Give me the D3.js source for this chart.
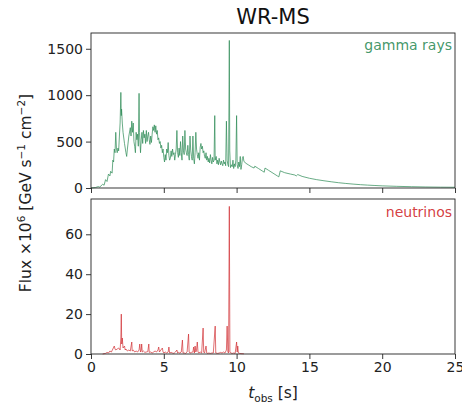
<!DOCTYPE html>
<html>
<head>
<meta charset="utf-8">
<script src="https://cdn.jsdelivr.net/npm/d3@7"></script>
<style>
  body { margin: 0; background: #fff; }
  svg { display: block; font-family: "DejaVu Sans", sans-serif; }
</style>
</head>
<body>
<svg id="chart" width="462" height="412"></svg>
<script>
const title = "WR-MS";
const xTicks = [0, 5, 10, 15, 20, 25];
const gammaTicks = [0, 500, 1000, 1500];
const nuTicks = [0, 20, 40, 60];
const gammaLabel = "gamma rays";
const nuLabel = "neutrinos";

// [t_obs (s), flux x1e6]
const gammaData = [
[0,0],[0.3,5],[0.5,15],[0.6,10],[0.8,40],[0.9,30],[1.0,90],[1.1,70],[1.2,150],[1.3,130],[1.35,180],[1.45,160],
[1.5,300],[1.55,280],[1.6,420],[1.65,380],[1.7,600],[1.75,420],[1.8,380],[1.85,430],[1.9,400],[1.95,560],[2.0,700],
[2.05,1030],[2.08,780],[2.1,850],[2.15,700],[2.2,600],[2.3,480],[2.4,380],[2.45,340],[2.5,420],[2.6,560],[2.7,650],
[2.75,560],[2.8,720],[2.85,600],[2.9,700],[2.95,500],[3.0,450],[3.05,380],[3.1,600],[3.15,520],[3.2,580],[3.25,450],
[3.3,1020],[3.33,600],[3.4,380],[3.45,520],[3.5,600],[3.55,480],[3.6,620],[3.65,540],[3.7,580],[3.75,480],[3.8,620],
[3.85,500],[3.9,560],[3.95,600],[4.0,520],[4.05,470],[4.1,560],[4.15,490],[4.2,580],[4.25,660],[4.3,620],[4.35,680],
[4.4,600],[4.45,670],[4.5,580],[4.55,620],[4.6,520],[4.65,540],[4.7,480],[4.75,500],[4.8,430],[4.85,460],[4.9,380],
[4.95,420],[5.0,330],[5.05,280],[5.1,360],[5.15,300],[5.2,420],[5.25,380],[5.3,490],[5.35,350],[5.4,300],[5.45,320],
[5.5,400],[5.55,340],[5.6,420],[5.65,360],[5.7,380],[5.75,300],[5.8,360],[5.85,420],[5.9,620],[5.95,380],[6.0,330],
[6.05,430],[6.1,350],[6.15,500],[6.2,380],[6.25,300],[6.3,560],[6.35,400],[6.4,360],[6.45,620],[6.5,420],[6.55,380],
[6.6,350],[6.65,460],[6.7,360],[6.75,300],[6.8,560],[6.85,400],[6.9,340],[6.95,300],[7.0,560],[7.05,320],[7.1,260],
[7.15,380],[7.2,600],[7.25,420],[7.3,360],[7.35,320],[7.4,380],[7.45,300],[7.5,440],[7.55,480],[7.6,420],[7.65,450],
[7.7,380],[7.75,400],[7.8,340],[7.85,320],[7.9,380],[7.95,300],[8.0,340],[8.05,280],[8.1,320],[8.15,270],[8.2,360],
[8.25,300],[8.3,260],[8.35,330],[8.4,280],[8.45,300],[8.5,780],[8.53,300],[8.6,340],[8.65,260],[8.7,300],[8.75,250],
[8.8,320],[8.85,280],[8.9,250],[8.95,290],[9.0,260],[9.05,240],[9.1,300],[9.15,260],[9.2,280],[9.25,240],[9.3,720],
[9.35,300],[9.4,250],[9.45,230],[9.5,1590],[9.53,400],[9.58,220],[9.65,250],[9.7,230],[9.75,300],[9.8,210],[9.85,260],
[9.9,230],[9.95,300],[10.0,780],[10.04,250],[10.1,210],[10.15,280],[10.2,230],[10.25,340],[10.3,200],[10.35,250],
[10.4,320],[10.45,340],[10.5,290],[10.6,270],[10.8,250],[11.0,230],[11.2,215],[11.25,235],[11.5,210],[11.8,180],
[11.9,170],[11.95,215],[12.2,190],[12.5,160],[12.8,130],[12.9,120],[13.0,185],[13.3,165],[13.7,150],[14.0,140],
[14.1,130],[14.2,145],[14.5,125],[15,105],[15.5,90],[16,78],[16.5,67],[17,57],[17.5,49],[18,42],[18.5,36],[19,31],
[19.5,27],[20,23],[21,18],[22,14],[23,11],[24,9],[25,8]
];

const nuData = [
[0.8,0],[1.0,0.3],[1.1,0.8],[1.2,0.5],[1.3,1.5],[1.4,1],[1.5,2.5],[1.6,4],[1.65,2.5],[1.7,2],[1.8,2.5],[1.9,3],
[2.0,2],[2.05,8],[2.08,20],[2.11,5],[2.15,8],[2.2,3],[2.3,4],[2.35,2],[2.4,2.5],[2.5,1.5],[2.6,2],[2.7,1.5],[2.8,6],
[2.83,1.5],[2.9,2],[3.0,1],[3.1,1.5],[3.2,1],[3.3,2],[3.35,5],[3.4,1],[3.45,2],[3.48,5],[3.52,1],[3.6,1.5],[3.7,0.8],
[3.8,1],[3.9,1.2],[3.97,5],[4.0,0.8],[4.1,1],[4.2,0.5],[4.3,1],[4.4,1.5],[4.5,1],[4.6,2],[4.65,3.5],[4.7,1],[4.8,2],
[4.9,3],[4.95,1],[5.0,0.5],[5.1,1],[5.2,0.5],[5.3,1],[5.35,3.5],[5.4,0.5],[5.5,0.8],[5.6,0.5],[5.7,0.3],[5.8,1],
[5.9,2],[5.95,0.5],[6.0,0.8],[6.1,0.5],[6.2,1],[6.28,7],[6.32,0.5],[6.4,0.5],[6.5,0.3],[6.6,1],[6.7,10],[6.74,1],
[6.8,0.5],[6.9,0.8],[7.0,1],[7.05,3.5],[7.1,0.5],[7.15,4],[7.2,1],[7.25,2],[7.3,6],[7.35,1],[7.4,0.5],[7.5,1],
[7.6,0.5],[7.7,13],[7.74,1],[7.8,0.5],[7.9,4],[7.95,0.5],[8.0,0.3],[8.1,0.5],[8.2,0.3],[8.3,0.5],[8.4,0.5],[8.53,14],
[8.57,0.5],[8.7,0.3],[8.8,0.5],[8.9,0.8],[9.0,0.5],[9.1,1],[9.2,0.5],[9.3,2],[9.35,14],[9.4,1],[9.45,0.5],[9.5,74],
[9.54,1],[9.6,0.5],[9.7,0.3],[9.8,0.5],[9.9,0.3],[10.0,6],[10.04,1],[10.08,4],[10.12,0.5],[10.2,0.3],[10.3,0.2],[10.5,0.1]
];

const svg = d3.select("#chart");
const left = 91, right = 455;
const topPanel = {y0: 33, y1: 188};
const botPanel = {y0: 199, y1: 354};

const x = d3.scaleLinear().domain([0, 25]).range([left, right]);
const yG = d3.scaleLinear().domain([0, 1670]).range([topPanel.y1, topPanel.y0]);
const yN = d3.scaleLinear().domain([0, 77.7]).range([botPanel.y1, botPanel.y0]);

const green = "#2e8b57";
const red = "#d0282c";
const axisColor = "#222";
const fmt = d3.format("d");

function styleAxis(g) {
  g.selectAll(".domain").remove();
  g.selectAll(".tick line").attr("stroke", axisColor).attr("stroke-width", 0.9);
  g.selectAll(".tick text").attr("fill", "#222").style("font-size", "14px").style("font-family", "DejaVu Sans");
}

// lines
const lineG = d3.line().x(d => x(d[0])).y(d => yG(d[1]));
const lineN = d3.line().x(d => x(d[0])).y(d => yN(d[1]));

svg.append("path").datum(gammaData).attr("d", lineG)
  .attr("fill", "none").attr("stroke", green).attr("stroke-width", 0.9).attr("stroke-opacity", 0.8)
  .attr("stroke-linejoin", "round");
svg.append("path").datum(nuData).attr("d", lineN)
  .attr("fill", "none").attr("stroke", red).attr("stroke-width", 0.9).attr("stroke-opacity", 0.75)
  .attr("stroke-linejoin", "round");

// axes top
svg.append("g").attr("transform", `translate(${left},0)`)
  .call(d3.axisLeft(yG).tickValues(gammaTicks).tickFormat(fmt).tickSize(5).tickPadding(3)).call(styleAxis);
svg.append("g").attr("transform", `translate(0,${topPanel.y1})`)
  .call(d3.axisBottom(x).tickValues(xTicks).tickSize(5).tickFormat("")).call(styleAxis);

// axes bottom
svg.append("g").attr("transform", `translate(${left},0)`)
  .call(d3.axisLeft(yN).tickValues(nuTicks).tickFormat(fmt).tickSize(5).tickPadding(3)).call(styleAxis);
svg.append("g").attr("transform", `translate(0,${botPanel.y1})`)
  .call(d3.axisBottom(x).tickValues(xTicks).tickFormat(fmt).tickSize(5).tickPadding(3)).call(styleAxis);

// frames
[topPanel, botPanel].forEach(p => {
  svg.append("rect").attr("x", left).attr("y", p.y0)
    .attr("width", right - left).attr("height", p.y1 - p.y0)
    .attr("fill", "none").attr("stroke", axisColor).attr("stroke-width", 0.9);
});

// panel labels
svg.append("text").attr("x", 452).attr("y", 50).attr("text-anchor", "end")
  .attr("fill", green).attr("fill-opacity", 0.9).style("font-size", "14px").text(gammaLabel);
svg.append("text").attr("x", 452).attr("y", 217).attr("text-anchor", "end")
  .attr("fill", red).attr("fill-opacity", 0.9).style("font-size", "14px").text(nuLabel);

// title
svg.append("text").attr("x", (left + right) / 2).attr("y", 24).attr("text-anchor", "middle")
  .attr("fill", "#111").style("font-size", "21px").text(title);

// y label
const yl = svg.append("text").attr("transform", `translate(31,193) rotate(-90)`)
  .attr("text-anchor", "middle").attr("fill", "#222").style("font-size", "15.5px");
yl.append("tspan").text("Flux \u00d710");
yl.append("tspan").attr("dy", -6).style("font-size", "10.5px").text("6");
yl.append("tspan").attr("dy", 6).text(" [GeV s");
yl.append("tspan").attr("dy", -6).style("font-size", "10.5px").text("\u22121");
yl.append("tspan").attr("dy", 6).text(" cm");
yl.append("tspan").attr("dy", -6).style("font-size", "10.5px").text("\u22122");
yl.append("tspan").attr("dy", 6).text("]");

// x label
const xl = svg.append("text").attr("x", (left + right) / 2).attr("y", 398)
  .attr("text-anchor", "middle").attr("fill", "#222").style("font-size", "15.5px");
xl.append("tspan").style("font-style", "italic").text("t");
xl.append("tspan").attr("dy", 4).style("font-size", "10.5px").text("obs");
xl.append("tspan").attr("dy", -4).text(" [s]");
</script>
</body>
</html>
